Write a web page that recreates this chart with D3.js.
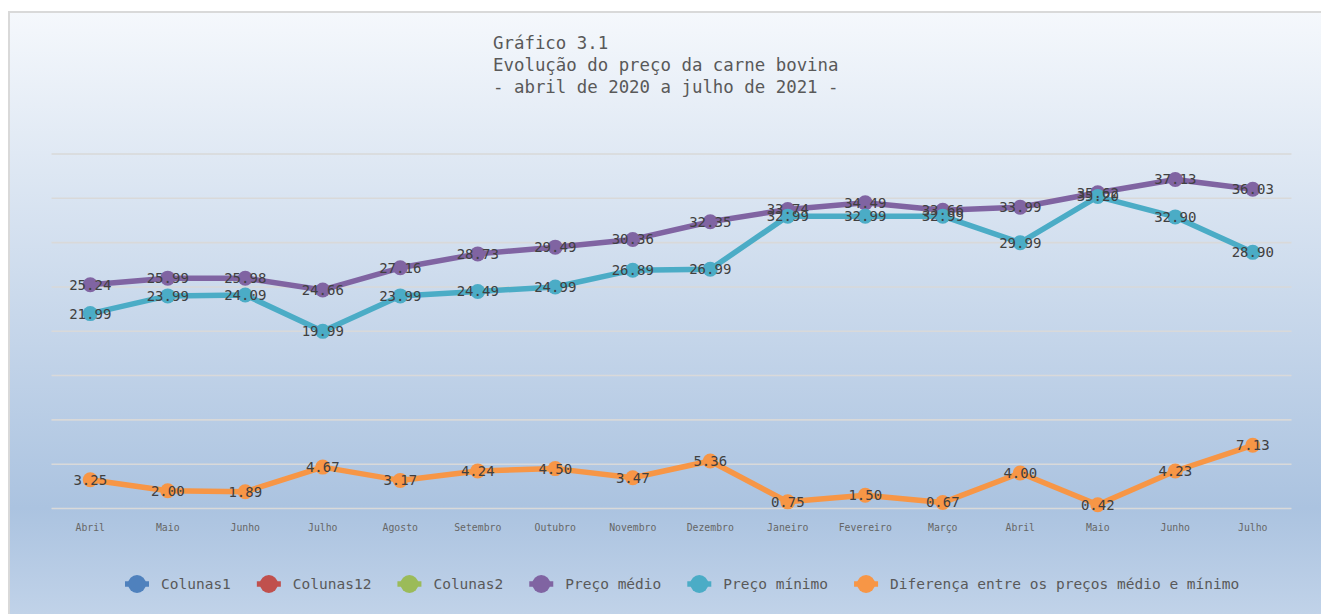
<!DOCTYPE html>
<html><head><meta charset="utf-8">
<script src="https://cdn.jsdelivr.net/npm/d3@7"></script>
<style>html,body{margin:0;padding:0;background:#fff;}svg{display:block;}</style>
</head><body>
<svg id="c" width="1321" height="614"></svg>
<script>
const months = ["Abril","Maio","Junho","Julho","Agosto","Setembro","Outubro","Novembro","Dezembro","Janeiro","Fevereiro","Março","Abril","Maio","Junho","Julho"];
const precoMedio = [25.24,25.99,25.98,24.66,27.16,28.73,29.49,30.36,32.35,33.74,34.49,33.66,33.99,35.62,37.13,36.03];
const precoMinimo = [21.99,23.99,24.09,19.99,23.99,24.49,24.99,26.89,26.99,32.99,32.99,32.99,29.99,35.20,32.90,28.90];
const diferenca = [3.25,2.00,1.89,4.67,3.17,4.24,4.50,3.47,5.36,0.75,1.50,0.67,4.00,0.42,4.23,7.13];
const yTicks = [0,5,10,15,20,25,30,35,40];
const titleLines = ["Gráfico 3.1","Evolução do preço da carne bovina","- abril de 2020 a julho de 2021 -"];
const legendNames = ["Colunas1","Colunas12","Colunas2","Preço médio","Preço mínimo","Diferença entre os preços médio e mínimo"];
const legendColors = ["#4f81bd","#c0504d","#9bbb59","#8064a2","#4bacc6","#f79646"];

const series = [
  {values: precoMedio, color: "#8064a2"},
  {values: precoMinimo, color: "#4bacc6"},
  {values: diferenca, color: "#f79646"}
];

const svg = d3.select("#c");
const mono = "'DejaVu Sans Mono', 'Liberation Mono', monospace";

const defs = svg.append("defs");
const grad = defs.append("linearGradient").attr("id","bg").attr("x1",0).attr("y1",0).attr("x2",0).attr("y2",1);
grad.append("stop").attr("offset","0%").attr("stop-color","#f5f8fc");
grad.append("stop").attr("offset","80%").attr("stop-color","#abc3e0");
grad.append("stop").attr("offset","100%").attr("stop-color","#c4d5ea");

svg.append("rect").attr("x",9).attr("y",12).attr("width",1330).attr("height",620)
  .attr("fill","url(#bg)").attr("stroke","#d9d9d9").attr("stroke-width",2);

// title
const t = svg.append("text").attr("font-family",mono).attr("font-size",17.4).attr("fill","#595959");
titleLines.forEach((s,i)=>t.append("tspan").attr("x",493).attr("y",49+i*22).text(s));

const idx = d3.range(months.length);
const x = d3.scaleBand().domain(idx).range([51.5,1291.5]).padding(0);
const cx = i => x(i) + x.bandwidth()/2;
const y = d3.scaleLinear().domain([0,40]).range([508.5,154]);

// gridlines
svg.append("g").selectAll("line").data(yTicks).join("line")
  .attr("x1",51.5).attr("x2",1291.5).attr("y1",d=>y(d)).attr("y2",d=>y(d))
  .attr("stroke","#d9d9d9").attr("stroke-width",1.6);

// x axis labels
const xAxis = d3.axisBottom(x).tickSize(0).tickPadding(0).tickFormat(i=>months[i]);
const gx = svg.append("g").attr("transform","translate(0,524.5)").call(xAxis);
gx.select(".domain").remove();
gx.selectAll("text").attr("font-family",mono).attr("font-size",9.8).attr("fill","#666").attr("dy","0.71em");

// lines & markers
const line = d3.line().x((d,i)=>cx(i)).y(d=>y(d));
series.forEach(s=>{
  svg.append("path").datum(s.values).attr("d",line).attr("fill","none")
    .attr("stroke",s.color).attr("stroke-width",5.5).attr("stroke-linejoin","round");
  svg.append("g").selectAll("circle").data(s.values).join("circle")
    .attr("cx",(d,i)=>cx(i)).attr("cy",d=>y(d)).attr("r",7.5).attr("fill",s.color);
});
// labels
series.forEach(s=>{
  svg.append("g").selectAll("text").data(s.values).join("text")
    .attr("x",(d,i)=>cx(i)).attr("y",d=>y(d)).attr("dy","0.35em")
    .attr("text-anchor","middle").attr("font-family",mono).attr("font-size",14)
    .attr("fill","#404040").text(d=>d.toFixed(2));
});

// legend
const lg = svg.append("g");
let lx = 161;
legendNames.forEach((n,i)=>{
  const mx = lx - 24;
  lg.append("line").attr("x1",mx-12).attr("x2",mx+12).attr("y1",584).attr("y2",584)
    .attr("stroke",legendColors[i]).attr("stroke-width",5.5);
  lg.append("circle").attr("cx",mx).attr("cy",584).attr("r",9).attr("fill",legendColors[i]);
  const tx = lg.append("text").attr("x",lx).attr("y",584).attr("dy","0.35em")
    .attr("font-family",mono).attr("font-size",14.5).attr("fill","#595959").text(n);
  lx += tx.node().getComputedTextLength() + 62;
});
</script>
</body></html>
